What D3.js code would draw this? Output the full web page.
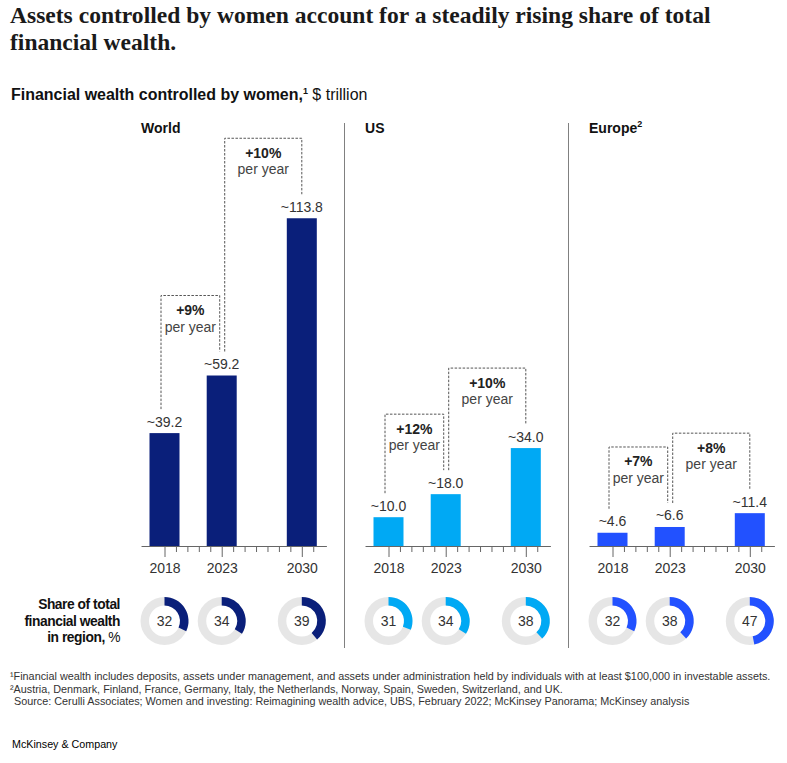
<!DOCTYPE html>
<html><head><meta charset="utf-8">
<script src="https://cdn.jsdelivr.net/npm/d3@7"></script>
<style>
body{margin:0;background:#fff;}
svg{display:block;}
</style></head><body>
<svg id="chart" width="787" height="763"></svg>
<script>
// ---------- data ----------
const titleLines = ["Assets controlled by women account for a steadily rising share of total", "financial wealth."];
const regions = ["World", "US", "Europe"];
const regionNotes = ["", "", "2"];
const years = [2018, 2023, 2030];
const minorYears = [2019, 2020, 2021, 2022, 2024, 2025, 2026, 2027, 2028, 2029, 2031];
const worldValues = [39.2, 59.2, 113.8];
const usValues = [10.0, 18.0, 34.0];
const europeValues = [4.6, 6.6, 11.4];
const worldShares = [32, 34, 39];
const usShares = [31, 34, 38];
const europeShares = [32, 38, 47];
const worldGrowth = ["+9%", "+10%"];
const usGrowth = ["+12%", "+10%"];
const europeGrowth = ["+7%", "+8%"];
const growthUnit = "per year";
const shareLabelLines = ["Share of total", "financial wealth", "in region,"];
const footnotes = [
  "¹Financial wealth includes deposits, assets under management, and assets under administration held by individuals with at least $100,000 in investable assets.",
  "²Austria, Denmark, Finland, France, Germany, Italy, the Netherlands, Norway, Spain, Sweden, Switzerland, and UK.",
  "Source: Cerulli Associates; Women and investing: Reimagining wealth advice, UBS, February 2022; McKinsey Panorama; McKinsey analysis"
];

const panels = regions.map((r, i) => ({
  name: r, note: regionNotes[i],
  values: [worldValues, usValues, europeValues][i],
  shares: [worldShares, usShares, europeShares][i],
  growth: [worldGrowth, usGrowth, europeGrowth][i],
  color: ["#0a1f7a", "#00a9f4", "#2251ff"][i]
}));

// ---------- layout ----------
const svg = d3.select("#chart");
const sans = "'Liberation Sans', Arial, sans-serif";
const baseY = 546;
const y = d3.scaleLinear().domain([0, 120]).range([baseY, baseY - 345.6]);
const barW = 30;
const panelStart = 164.5, panelStep = 224, yearSpan = 137.3;

function fit(sel, w) {
  const len = sel.node().getComputedTextLength();
  const fs = parseFloat(sel.style("font-size"));
  sel.style("font-size", (fs * w / len) + "px");
}

// title
const t1 = svg.append("text").attr("x", 10).attr("y", 23)
  .style("font-family", "'Liberation Serif', 'Times New Roman', serif").style("font-weight", "bold")
  .style("font-size", "22px").attr("fill", "#1a1a1a").text(titleLines[0]);
fit(t1, 701);
const tfs = t1.style("font-size");
svg.append("text").attr("x", 10).attr("y", 50)
  .style("font-family", "'Liberation Serif', 'Times New Roman', serif").style("font-weight", "bold")
  .style("font-size", tfs).attr("fill", "#1a1a1a").text(titleLines[1]);

// subtitle
const sub = svg.append("text").attr("x", 11).attr("y", 100).style("font-family", sans)
  .style("font-size", "15px").attr("fill", "#111");
sub.append("tspan").style("font-weight", "bold").text("Financial wealth controlled by women,");
sub.append("tspan").attr("dy", -6).style("font-size", "9px").style("font-weight", "bold").text("1");
sub.append("tspan").attr("dy", 6).text(" $ trillion");
fit(sub, 357);

// separators
[1, 2].forEach(i => {
  const sx = panelStart + i * panelStep - 44;
  svg.append("line").attr("x1", sx).attr("x2", sx).attr("y1", 123).attr("y2", 648)
    .attr("stroke", "#808080").attr("stroke-width", 1);
});

panels.forEach((p, i) => {
  const ox = panelStart + i * panelStep;
  const x = d3.scaleLinear().domain([2018, 2030]).range([ox, ox + yearSpan]);
  const g = svg.append("g");

  // region title
  const rt = g.append("text").attr("x", x(2015.95)).attr("y", 133).style("font-family", sans)
    .style("font-weight", "bold").style("font-size", "14px").attr("fill", "#111").text(p.name);
  if (p.note) rt.append("tspan").attr("dy", -6).style("font-size", "9px").text(p.note);

  // axis
  const axisScale = x.copy().domain([2015.95, 2032.15]).range([x(2015.95), x(2032.15)]);
  const axis = d3.axisBottom(axisScale).tickValues(years.concat(minorYears))
    .tickFormat(d => years.includes(d) ? d : "").tickSizeOuter(0).tickSizeInner(6);
  const ag = g.append("g").attr("transform", `translate(0,${baseY})`).call(axis);
  ag.select(".domain").attr("stroke", "#666");
  ag.selectAll(".tick line").attr("stroke", "#666").attr("y2", d => years.includes(d) ? 11 : 6);
  ag.selectAll(".tick text").attr("y", 27).attr("dy", 0).style("font-family", sans)
    .style("font-size", "14px").attr("fill", "#333");

  // bars
  g.selectAll("rect.bar").data(p.values).join("rect").attr("class", "bar")
    .attr("x", (d, j) => x(years[j]) - barW / 2).attr("width", barW)
    .attr("y", d => y(d)).attr("height", d => baseY - y(d)).attr("fill", p.color);

  // value labels
  g.selectAll("text.val").data(p.values).join("text").attr("class", "val")
    .attr("x", (d, j) => x(years[j])).attr("y", d => y(d) - 6.5).attr("text-anchor", "middle")
    .style("font-family", sans).style("font-size", "14px").attr("fill", "#333")
    .text(d => "~" + d.toFixed(1));

  // growth brackets
  p.growth.forEach((gr, k) => {
    const a = k, b = k + 1;
    const xl = k === 0 ? x(years[a]) - 3.5 : x(years[a]) + 3;
    const xr = k === 0 ? x(years[b]) - 2 : x(years[b]);
    const top = Math.min(y(p.values[a]), y(p.values[b])) - 80;
    const botL = y(p.values[a]) - 24, botR = y(p.values[b]) - 24;
    g.append("path").attr("d", `M${xl},${botL}V${top}H${xr}V${botR}`)
      .attr("fill", "none").attr("stroke", "#555").attr("stroke-width", 1).attr("stroke-dasharray", "2.5,1.5");
    const cx = (xl + xr) / 2;
    g.append("text").attr("x", cx).attr("y", top + 19.5).attr("text-anchor", "middle")
      .style("font-family", sans).style("font-weight", "bold").style("font-size", "14px").attr("fill", "#222").text(gr);
    g.append("text").attr("x", cx).attr("y", top + 36).attr("text-anchor", "middle")
      .style("font-family", sans).style("font-size", "14px").attr("fill", "#444").text(growthUnit);
  });

  // donuts
  const rOut = 24, rIn = 15.5, cy = 621;
  const arc = d3.arc().innerRadius(rIn).outerRadius(rOut);
  p.shares.forEach((s, j) => {
    const dg = g.append("g").attr("transform", `translate(${x(years[j])},${cy})`);
    dg.append("path").attr("d", arc({startAngle: 0, endAngle: 2 * Math.PI})).attr("fill", "#e6e6e6");
    dg.append("path").attr("d", arc({startAngle: 0, endAngle: 2 * Math.PI * s / 100})).attr("fill", p.color);
    dg.append("text").attr("text-anchor", "middle").attr("dy", "0.36em")
      .style("font-family", sans).style("font-size", "14px").attr("fill", "#333").text(s);
  });
});

// share label
shareLabelLines.forEach((l, i) => {
  const t = svg.append("text").attr("x", 120).attr("y", 609 + i * 16.5).attr("text-anchor", "end")
    .style("font-family", sans).style("font-size", "13.8px").style("letter-spacing", "-0.45px").attr("fill", "#111");
  t.append("tspan").style("font-weight", "bold").text(l);
  if (i === 2) t.append("tspan").text(" %");
});

// footnotes
const f0 = svg.append("text").attr("x", 10).attr("y", 680).style("font-family", sans)
  .style("font-size", "11px").attr("fill", "#333").text(footnotes[0]);
fit(f0, 761);
const ffs = f0.style("font-size");
svg.append("text").attr("x", 10).attr("y", 692.5).style("font-family", sans)
  .style("font-size", ffs).attr("fill", "#333").text(footnotes[1]);
svg.append("text").attr("x", 14).attr("y", 705).style("font-family", sans)
  .style("font-size", ffs).attr("fill", "#333").text(footnotes[2]);

const logo = svg.append("text").attr("x", 12).attr("y", 748).style("font-family", sans)
  .style("font-size", "12px").attr("fill", "#000").text("McKinsey & Company");
fit(logo, 105.6);
</script>
</body></html>
